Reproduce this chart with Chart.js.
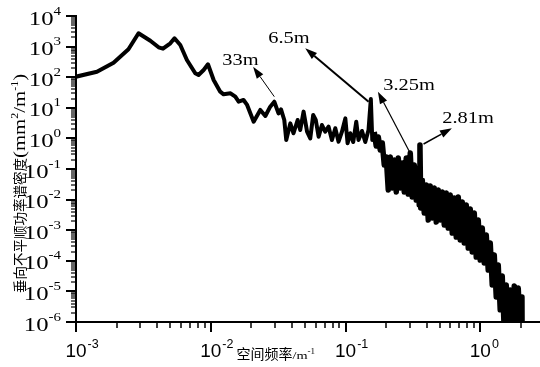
<!DOCTYPE html>
<html>
<head>
<meta charset="utf-8">
<script src="https://cdn.jsdelivr.net/npm/chart.js@4"></script>
<style>html,body{margin:0;padding:0;background:#fff}</style>
</head>
<body>
<canvas id="psdChart" width="540" height="367"></canvas>
<script>
// spatial frequency (1/m) and vertical irregularity PSD (mm^2/m^-1)
var freq = [
  0.001, 0.00143, 0.0019, 0.00245, 0.00291, 0.00356, 0.0041, 0.00442, 0.00501, 0.00538,
  0.00594, 0.00665, 0.00767, 0.00811, 0.00885, 0.00953, 0.0105, 0.01175, 0.01245, 0.014,
  0.0152, 0.0161, 0.0175, 0.0186, 0.0208, 0.0233, 0.0254, 0.0276, 0.0296, 0.0318,
  0.0332, 0.0351, 0.0363, 0.0389, 0.0411, 0.0441, 0.0461, 0.0488, 0.0518, 0.0547,
  0.0575, 0.0601, 0.0631, 0.0668, 0.0706, 0.0748, 0.0792, 0.0839, 0.0887, 0.094,
  0.0996, 0.1035, 0.1084, 0.114, 0.12, 0.1247, 0.1324, 0.14, 0.148, 0.154,
  0.1578, 0.1632, 0.1689, 0.1748, 0.1809, 0.1872, 0.1937, 0.2004, 0.2074, 0.2146,
  0.222, 0.2297, 0.2377, 0.246, 0.2545, 0.2634, 0.2725, 0.282, 0.2918, 0.302,
  0.3124, 0.3233, 0.3345, 0.3461, 0.3521, 0.3563, 0.3613, 0.3707, 0.3835, 0.3969,
  0.4107, 0.4249, 0.4397, 0.455, 0.4708, 0.4872, 0.5041, 0.5216, 0.5398, 0.5585,
  0.5779, 0.598, 0.6188, 0.6403, 0.6626, 0.6855, 0.7094, 0.734, 0.7595, 0.7859,
  0.8132, 0.8414, 0.8707, 0.901, 0.9322, 0.9645, 0.998, 1.033, 1.069, 1.106,
  1.144, 1.184, 1.225, 1.268, 1.312, 1.357, 1.404, 1.453, 1.504, 1.556,
  1.61, 1.666, 1.724, 1.784, 1.846, 1.91, 1.976, 2.035, 2.04
];
var psd = [
  104, 151, 298, 817, 2720, 1560, 948, 853, 1280, 1870,
  1130, 365, 134, 118, 172, 264, 81, 33.6, 27.6, 29.8,
  23.1, 15.8, 18.0, 12.4, 3.5, 8.5, 5.4, 10.9, 15.8, 6.6,
  8.9, 4.0, 0.89, 3.1, 1.47, 4.0, 1.88, 7.5, 1.66, 1.0,
  5.8, 4.0, 1.14, 2.74, 1.66, 2.41, 0.89, 2.14, 0.78, 1.66,
  4.5, 0.69, 1.47, 0.76, 3.5, 0.89, 1.75, 0.76, 1.88, 19.4,
  0.887, 1.62, 0.565, 1.11, 0.418, 0.71, 0.135, 0.247, 0.0206, 0.247,
  0.0239, 0.197, 0.0177, 0.229, 0.0239, 0.157, 0.0177, 0.229, 0.0152, 0.333,
  0.0122, 0.135, 0.0097, 0.108, 0.00667, 0.608, 0.00531, 0.0437, 0.00365, 0.030,
  0.00215, 0.0278, 0.00251, 0.0239, 0.00185, 0.0206, 0.00215, 0.0177, 0.00148, 0.0164,
  0.00118, 0.0141, 0.000809, 0.0113, 0.0006, 0.0122, 0.000479, 0.00836, 0.000382, 0.00667,
  0.000262, 0.00493, 0.000194, 0.00365, 0.000133, 0.00215, 0.000106, 0.00118, 8.5e-5, 0.000697,
  5.0e-5, 0.000382, 1.62e-5, 0.000155, 6.6e-6, 7.3e-5, 2.5e-6, 3.2e-5, 5e-7, 1.62e-5,
  5e-7, 1.11e-5, 5e-7, 1.5e-5, 5e-7, 1.29e-5, 5e-7, 6.6e-6, 5e-7
];

var xTickExps = [-3, -2, -1, 0];
var yTickExps = [-6, -5, -4, -3, -2, -1, 0, 1, 2, 3, 4];

// wavelength annotations: label anchor, arrow start, arrow tip (data units)
var peakLabels = ['33m', '6.5m', '3.25m', '2.81m'];
var labelAt = [[0.01216, 250], [0.0267, 1310], [0.1904, 38.2], [0.522, 3.18]];
var arrowFrom = [[0.0296, 23.1], [0.1482, 15.8], [0.302, 0.326], [0.379, 0.656]];
var arrowTo = [[0.0206, 220], [0.0502, 880], [0.1738, 33.6], [0.615, 2.14]];
var arrowWidth = [1, 2, 1.2, 1.5];

var serif = "'Liberation Serif', 'Times New Roman', serif";
var sans = "'Liberation Sans', Arial, sans-serif";
var cjk = "'Noto Sans CJK SC', 'Noto Sans CJK TC', sans-serif";

function runsWidth(ctx, runs) {
  var w = 0;
  runs.forEach(function (r) {
    ctx.font = r.f;
    w += ctx.measureText(r.t).width * (r.sx || 1);
  });
  return w;
}

function drawRuns(ctx, x, y, runs) {
  var cx = x;
  runs.forEach(function (r) {
    ctx.font = r.f;
    var sx = r.sx || 1;
    ctx.save();
    ctx.translate(cx, y + (r.dy || 0));
    ctx.scale(sx, 1);
    ctx.fillText(r.t, 0, 0);
    ctx.restore();
    cx += ctx.measureText(r.t).width * sx;
  });
}

function arrow(ctx, x0, y0, x1, y1, lw) {
  var ang = Math.atan2(y1 - y0, x1 - x0);
  var len = 12, half = 4;
  var bx = x1 - len * Math.cos(ang), by = y1 - len * Math.sin(ang);
  ctx.lineWidth = lw;
  ctx.beginPath();
  ctx.moveTo(x0, y0);
  ctx.lineTo(bx, by);
  ctx.stroke();
  ctx.beginPath();
  ctx.moveTo(x1, y1);
  ctx.lineTo(bx + half * Math.sin(ang), by - half * Math.cos(ang));
  ctx.lineTo(bx - half * Math.sin(ang), by + half * Math.cos(ang));
  ctx.closePath();
  ctx.fill();
}

var decor = {
  id: 'decor',
  afterDraw: function (chart) {
    var ctx = chart.ctx;
    var xs = chart.scales.x, ys = chart.scales.y;
    var area = chart.chartArea;
    ctx.save();
    ctx.strokeStyle = '#000';
    ctx.fillStyle = '#000';
    ctx.textBaseline = 'alphabetic';

    // x ticks, outside
    xTickExps.forEach(function (e) {
      for (var m = 1; m < 10; m++) {
        var v = m * Math.pow(10, e);
        if (v > xs.max) break;
        var px = Math.round(xs.getPixelForValue(v));
        ctx.lineWidth = m === 1 ? 2 : 1.5;
        ctx.beginPath();
        ctx.moveTo(px, area.bottom);
        ctx.lineTo(px, area.bottom + (m === 1 ? 10 : 6));
        ctx.stroke();
      }
      var cx = xs.getPixelForValue(Math.pow(10, e));
      ctx.font = '19px ' + sans;
      var w = ctx.measureText('10').width;
      ctx.fillText('10', cx - w / 2, 357);
      ctx.font = '12.5px ' + sans;
      ctx.fillText(String(e), cx + w / 2 + 1, 348);
    });

    // y ticks, outside
    yTickExps.forEach(function (e) {
      for (var m = 1; m < 10; m++) {
        var v = m * Math.pow(10, e);
        if (v > ys.max) break;
        var py = Math.round(ys.getPixelForValue(v));
        ctx.lineWidth = m === 1 ? 2 : 1.2;
        ctx.beginPath();
        ctx.moveTo(area.left, py);
        ctx.lineTo(area.left - (m === 1 ? 10 : 5), py);
        ctx.stroke();
      }
      var py0 = ys.getPixelForValue(Math.pow(10, e));
      var runs = [
        { t: '10', f: '19px ' + serif, sx: 1.3 },
        { t: String(e), f: '12.5px ' + serif, sx: 1.2, dy: -10 }
      ];
      drawRuns(ctx, 61 - runsWidth(ctx, runs), py0 + 8.5, runs);
    });

    // x title
    drawRuns(ctx, 236.5, 359, [
      { t: '空间频率', f: '14px ' + cjk },
      { t: '/m', f: '11px ' + serif, sx: 1.3 },
      { t: '-1', f: '7.5px ' + serif, sx: 1.2, dy: -5 }
    ]);

    // y title
    ctx.save();
    ctx.translate(24.5, 293);
    ctx.rotate(-Math.PI / 2);
    drawRuns(ctx, 0, 0, [
      { t: '垂向不平顺功率谱密度', f: '13.5px ' + cjk },
      { t: '(mm', f: '16px ' + serif, sx: 1.3 },
      { t: '2', f: '10px ' + serif, sx: 1.2, dy: -7 },
      { t: '/m', f: '16px ' + serif, sx: 1.3 },
      { t: '-1', f: '10px ' + serif, sx: 1.2, dy: -7 },
      { t: ')', f: '16px ' + serif, sx: 1.3 }
    ]);
    ctx.restore();

    // peak annotations
    peakLabels.forEach(function (lab, i) {
      arrow(ctx,
        xs.getPixelForValue(arrowFrom[i][0]), ys.getPixelForValue(arrowFrom[i][1]),
        xs.getPixelForValue(arrowTo[i][0]), ys.getPixelForValue(arrowTo[i][1]),
        arrowWidth[i]);
      drawRuns(ctx, xs.getPixelForValue(labelAt[i][0]), ys.getPixelForValue(labelAt[i][1]),
        [{ t: lab, f: '17px ' + serif, sx: 1.2 }]);
    });
    ctx.restore();
  }
};

var points = freq.map(function (f, i) { return { x: f, y: psd[i] }; });

var ctx = document.getElementById('psdChart').getContext('2d');
var myChart = new Chart(ctx, {
  type: 'line',
  data: {
    datasets: [{
      data: points,
      borderColor: '#000000',
      borderWidth: 4,
      borderJoinStyle: 'round',
      pointRadius: 0,
      fill: false,
      tension: 0,
      // the dense noisy tail is stroked a little heavier so it reads as a solid band
      segment: {
        borderWidth: function (c) { return c.p0.parsed.x > 0.158 ? 5.5 : 4; }
      },
      clip: { left: 0, top: 5, right: 0, bottom: 0 }
    }]
  },
  options: {
    responsive: false,
    animation: false,
    devicePixelRatio: 1,
    layout: {
      padding: { top: 16, left: 0, right: 0, bottom: 0 }
    },
    plugins: {
      legend: { display: false },
      tooltip: { enabled: false }
    },
    scales: {
      x: {
        type: 'logarithmic',
        min: 0.001,
        max: 2.77,
        ticks: { display: false },
        grid: { display: false },
        border: { color: '#000000', width: 2 },
        afterFit: function (s) { s.height = 45; }
      },
      y: {
        type: 'logarithmic',
        min: 1e-6,
        max: 1e4,
        ticks: { display: false },
        grid: { display: false },
        border: { color: '#000000', width: 2 },
        afterFit: function (s) { s.width = 76; }
      }
    }
  },
  plugins: [decor]
});
</script>
</body>
</html>
